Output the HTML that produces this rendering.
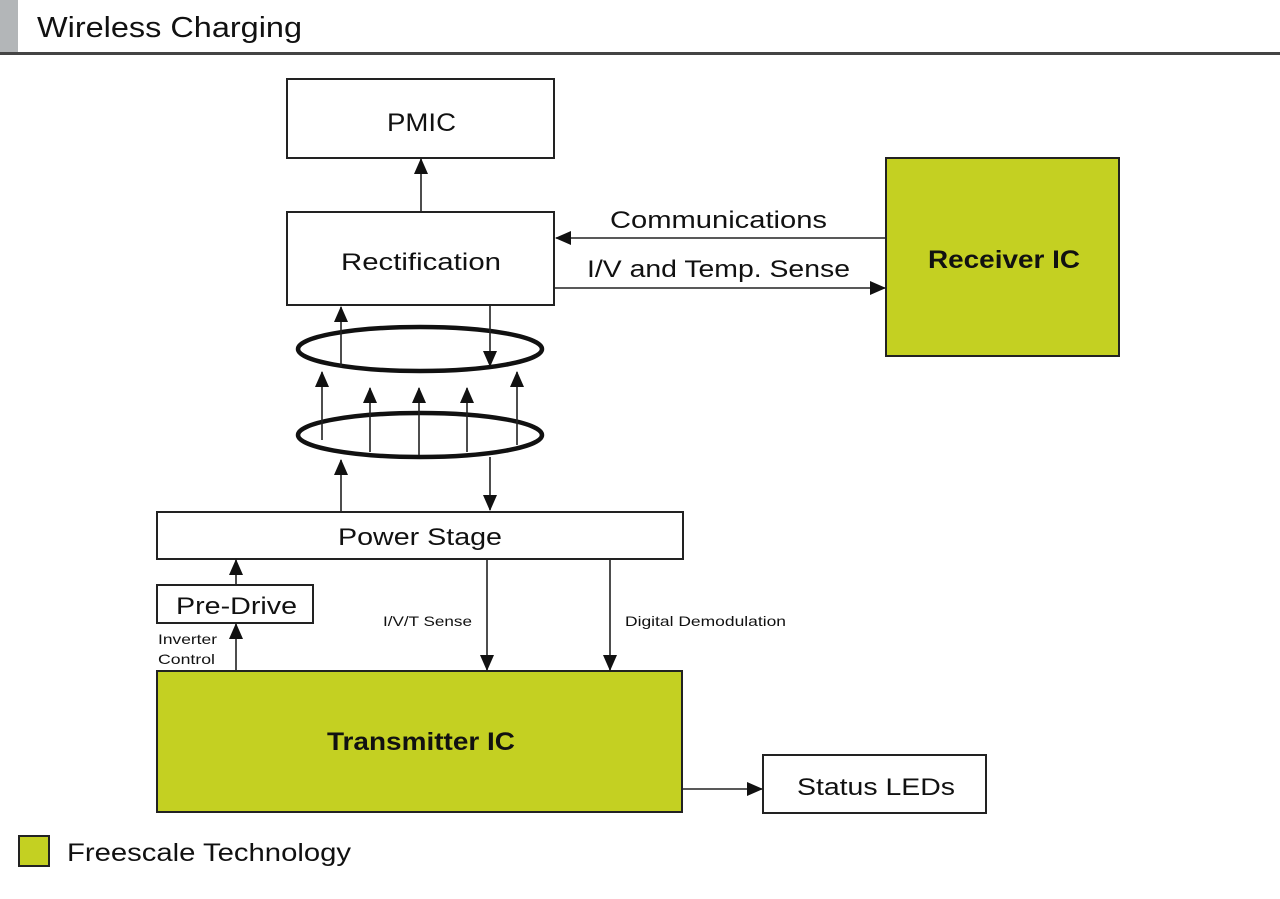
<!DOCTYPE html>
<html><head><style>
body{margin:0;width:1280px;height:894px;background:#fff;overflow:hidden;font-family:"Liberation Sans",sans-serif}
</style></head><body>
<svg width="1280" height="894" xmlns="http://www.w3.org/2000/svg" font-family="Liberation Sans, sans-serif">
<defs><marker id="a" markerWidth="10" markerHeight="10" refX="9" refY="5" orient="auto" markerUnits="userSpaceOnUse" viewBox="0 0 10 10"><path d="M0,0L10,5L0,10z" fill="#111"/></marker>
<marker id="b" markerWidth="16" markerHeight="14" refX="15" refY="7" orient="auto" markerUnits="userSpaceOnUse" viewBox="0 0 16 14"><path d="M0,0L16,7L0,14z" fill="#111"/></marker></defs>
<rect x="0" y="0" width="18" height="52" fill="#b3b6b8"/>
<rect x="0" y="52" width="1280" height="3" fill="#444"/>
<text x="37" y="37" font-size="29" fill="#111" textLength="265" lengthAdjust="spacingAndGlyphs">Wireless Charging</text>
<g fill="#fff" stroke="#222" stroke-width="2">
<rect x="287" y="79" width="267" height="79"/>
<rect x="287" y="212" width="267" height="93"/>
<rect x="886" y="158" width="233" height="198" fill="#c4d022"/>
<rect x="157" y="512" width="526" height="47"/>
<rect x="157" y="585" width="156" height="38"/>
<rect x="157" y="671" width="525" height="141" fill="#c4d022"/>
<rect x="763" y="755" width="223" height="58"/>
<rect x="19" y="836" width="30" height="30" fill="#c4d022"/>
</g>
<g fill="none" stroke="#111" stroke-width="4.5">
<ellipse cx="420" cy="349" rx="122" ry="22"/>
<ellipse cx="420" cy="435" rx="122" ry="22"/>
</g>
<g stroke="#222" stroke-width="1.6" fill="none" marker-end="url(#b)">
<line x1="421" y1="212" x2="421" y2="159"/>
<line x1="886" y1="238" x2="556" y2="238"/>
<line x1="554" y1="288" x2="885" y2="288"/>
<line x1="341" y1="367" x2="341" y2="307"/>
<line x1="490" y1="305" x2="490" y2="366"/>
<line x1="322" y1="440" x2="322" y2="372"/>
<line x1="370" y1="452" x2="370" y2="388"/>
<line x1="419" y1="455" x2="419" y2="388"/>
<line x1="467" y1="452" x2="467" y2="388"/>
<line x1="517" y1="445" x2="517" y2="372"/>
<line x1="341" y1="512" x2="341" y2="460"/>
<line x1="490" y1="457" x2="490" y2="510"/>
<line x1="236" y1="585" x2="236" y2="560"/>
<line x1="236" y1="671" x2="236" y2="624"/>
<line x1="487" y1="559" x2="487" y2="670"/>
<line x1="610" y1="559" x2="610" y2="670"/>
<line x1="682" y1="789" x2="762" y2="789"/>
</g>
<g fill="#111" lengthAdjust="spacingAndGlyphs">
<text x="387" y="131" font-size="25" textLength="69" lengthAdjust="spacingAndGlyphs">PMIC</text>
<text x="341" y="270" font-size="24" textLength="160" lengthAdjust="spacingAndGlyphs">Rectification</text>
<text x="610" y="228" font-size="24" textLength="217" lengthAdjust="spacingAndGlyphs">Communications</text>
<text x="587" y="277" font-size="24" textLength="263" lengthAdjust="spacingAndGlyphs">I/V and Temp. Sense</text>
<text x="928" y="268" font-size="25" font-weight="bold" textLength="152" lengthAdjust="spacingAndGlyphs">Receiver IC</text>
<text x="338" y="545" font-size="24" textLength="164" lengthAdjust="spacingAndGlyphs">Power Stage</text>
<text x="176" y="614" font-size="24" textLength="121" lengthAdjust="spacingAndGlyphs">Pre-Drive</text>
<text x="327" y="750" font-size="25" font-weight="bold" textLength="188" lengthAdjust="spacingAndGlyphs">Transmitter IC</text>
<text x="797" y="795" font-size="24" textLength="158" lengthAdjust="spacingAndGlyphs">Status LEDs</text>
<text x="158" y="644" font-size="14" textLength="59" lengthAdjust="spacingAndGlyphs">Inverter</text>
<text x="158" y="664" font-size="14" textLength="57" lengthAdjust="spacingAndGlyphs">Control</text>
<text x="383" y="626" font-size="14" textLength="89" lengthAdjust="spacingAndGlyphs">I/V/T Sense</text>
<text x="625" y="626" font-size="14" textLength="161" lengthAdjust="spacingAndGlyphs">Digital Demodulation</text>
<text x="67" y="861" font-size="25" textLength="284" lengthAdjust="spacingAndGlyphs">Freescale Technology</text>
</g>
</svg>
</body></html>
